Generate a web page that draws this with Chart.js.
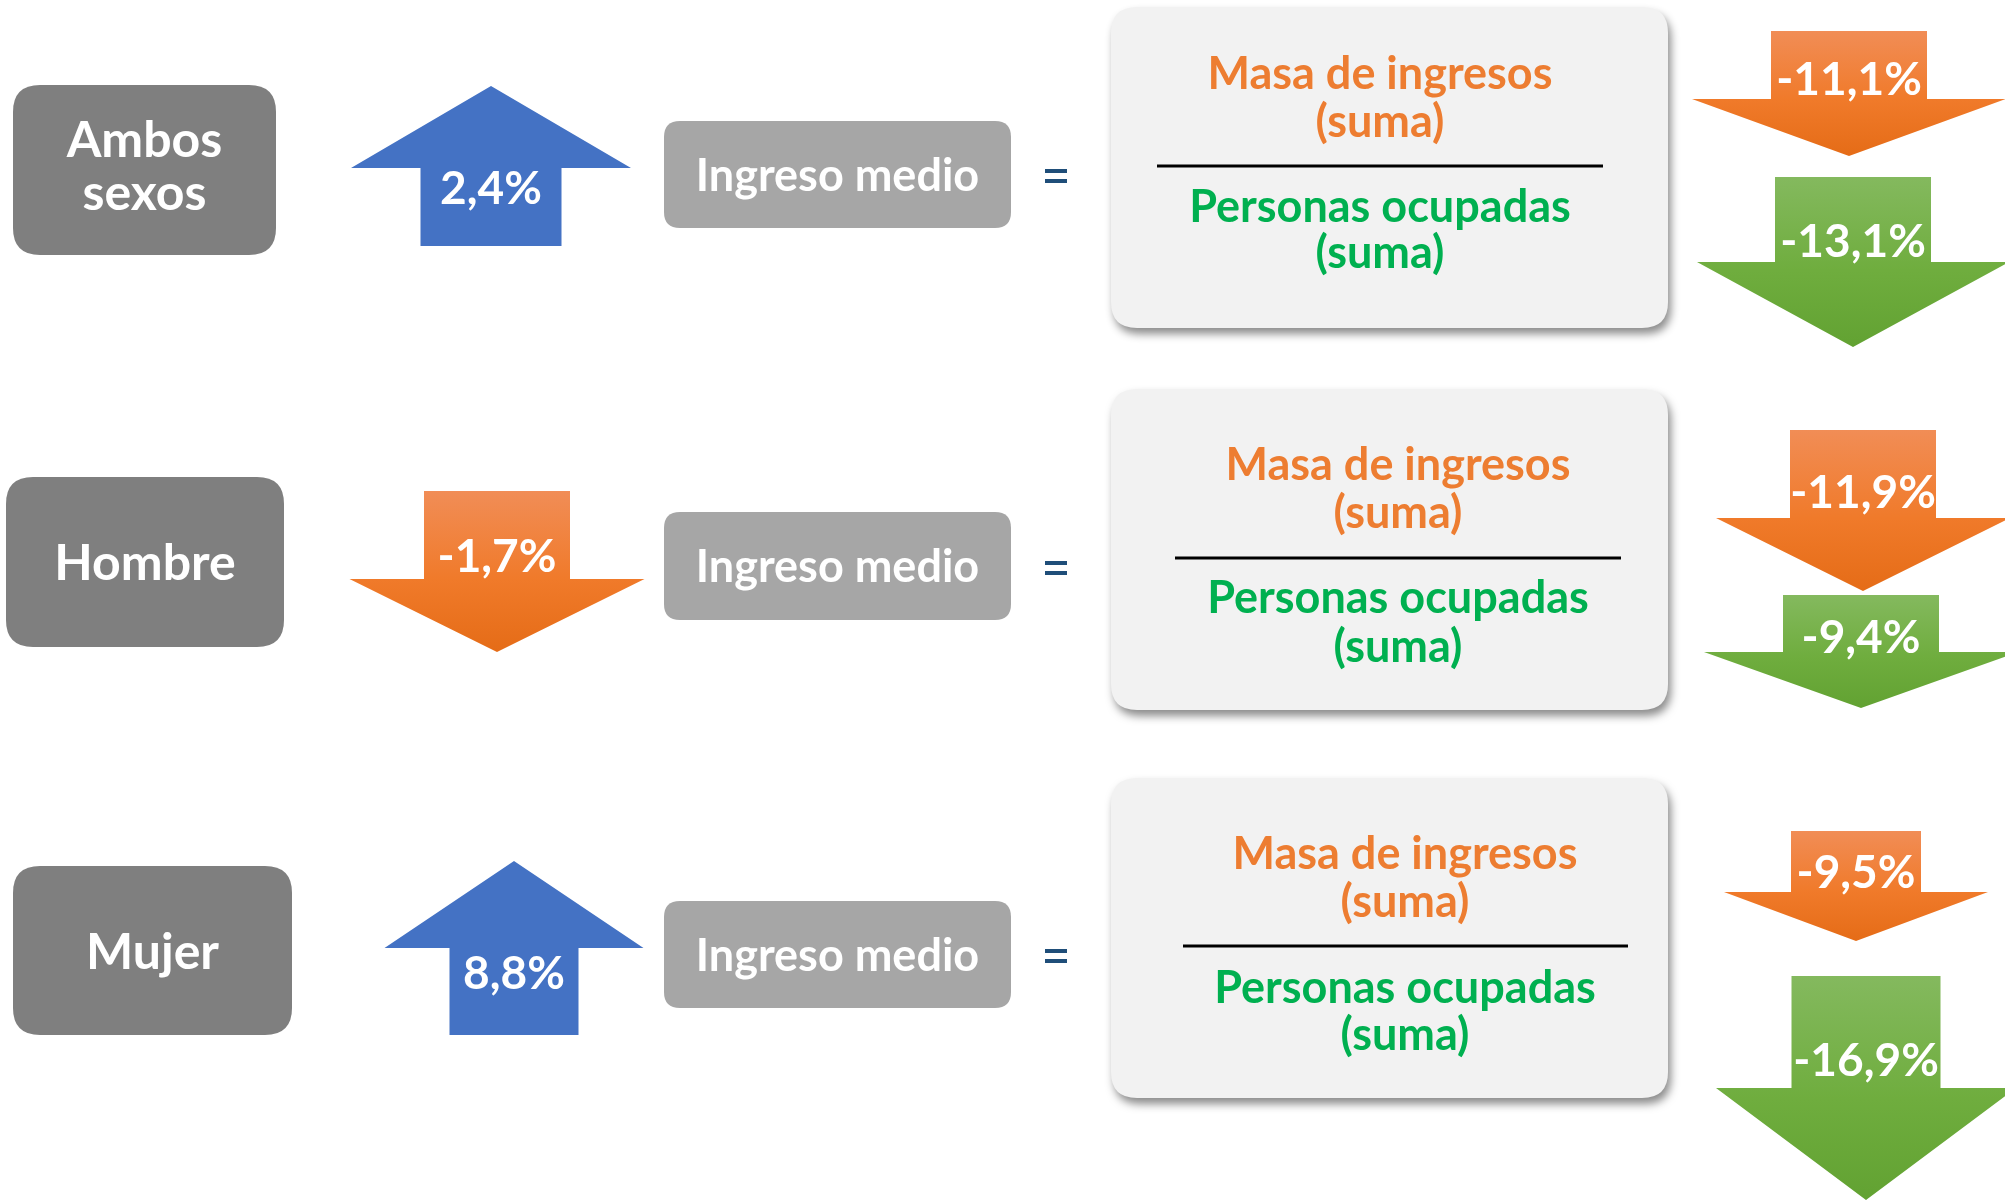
<!DOCTYPE html>
<html>
<head>
<meta charset="utf-8">
<script src="https://cdn.jsdelivr.net/npm/chart.js@4.4.1/dist/chart.umd.min.js"></script>
<style>
html,body{margin:0;padding:0;background:#fff;}
canvas{display:block;}
</style>
</head>
<body>
<canvas id="c" width="2005" height="1201"></canvas>
<script>
// ---- DATA ----
const grupos = [['Ambos', 'sexos'], ['Hombre'], ['Mujer']];
const ingresoMedio = [2.4, -1.7, 8.8];
const masaIngresos = [-11.1, -11.9, -9.5];
const personasOcupadas = [-13.1, -9.4, -16.9];
const textoIngreso = 'Ingreso medio';
const textoMasa = ['Masa de ingresos', '(suma)'];
const textoPersonas = ['Personas ocupadas', '(suma)'];

// ---- LAYOUT (pixel space of the hidden linear scales) ----
const W = 2005, H = 1201;
const FONT = 'Lato, "Open Sans", sans-serif';
const layout = [
  { label: {x0: 13, x1: 276, y0: 85, y1: 255, base: [157, 210]},
    main: {cx: 491, tail: 246, headBase: 168, tip: 86, shaft: 70.5, head: 140, base: 204},
    ingreso: {x0: 664, x1: 1011, y0: 121, y1: 228, base: 191}, eq: 176,
    frac: {x0: 1111, x1: 1668, y0: 7, y1: 328, cx: 1380, lineY: 166, l0: 1157, l1: 1603, base: [89, 137, 222, 268]},
    masa: {cx: 1849, tail: 31, headBase: 99, tip: 156, shaft: 78, head: 157, base: 95},
    pers: {cx: 1853, tail: 177, headBase: 262, tip: 347, shaft: 78, head: 156, base: 257} },
  { label: {x0: 6, x1: 284, y0: 477, y1: 647, base: [580]},
    main: {cx: 497, tail: 491, headBase: 579, tip: 652, shaft: 73, head: 147.5, base: 572},
    ingreso: {x0: 664, x1: 1011, y0: 512, y1: 620, base: 582}, eq: 568,
    frac: {x0: 1111, x1: 1668, y0: 389, y1: 710, cx: 1398, lineY: 558, l0: 1175, l1: 1621, base: [480, 528, 613, 662]},
    masa: {cx: 1863, tail: 430, headBase: 518, tip: 591, shaft: 73, head: 147, base: 508},
    pers: {cx: 1861, tail: 595, headBase: 652, tip: 708, shaft: 78, head: 157, base: 653} },
  { label: {x0: 13, x1: 292, y0: 866, y1: 1035, base: [969]},
    main: {cx: 514, tail: 1035, headBase: 948, tip: 861, shaft: 64.5, head: 129.5, base: 989},
    ingreso: {x0: 664, x1: 1011, y0: 901, y1: 1008, base: 971}, eq: 956,
    frac: {x0: 1111, x1: 1668, y0: 778, y1: 1098, cx: 1405, lineY: 946, l0: 1183, l1: 1628, base: [869, 917, 1003, 1050]},
    masa: {cx: 1856, tail: 831, headBase: 892, tip: 941, shaft: 65, head: 132, base: 888},
    pers: {cx: 1866, tail: 976, headBase: 1088, tip: 1200, shaft: 74.5, head: 150, base: 1076} }
];

const COLORS = {
  label: '#7F7F7F', ingreso: '#A6A6A6', frac: '#F2F2F2', eq: '#1F4E79',
  up: '#4472C4', orangeTxt: '#ED7D31', greenTxt: '#00B050',
  orange: ['#F18D56', '#F07A2A', '#E56C17'], green: ['#84B95E', '#6FAD3E', '#62A232']
};

function fmt(v) { return v.toFixed(1).replace('.', ',') + '%'; }

function rr(ctx, x0, y0, x1, y1, r) {
  ctx.beginPath();
  ctx.moveTo(x0 + r, y0);
  ctx.lineTo(x1 - r, y0);
  ctx.quadraticCurveTo(x1, y0, x1, y0 + r);
  ctx.lineTo(x1, y1 - r);
  ctx.quadraticCurveTo(x1, y1, x1 - r, y1);
  ctx.lineTo(x0 + r, y1);
  ctx.quadraticCurveTo(x0, y1, x0, y1 - r);
  ctx.lineTo(x0, y0 + r);
  ctx.quadraticCurveTo(x0, y0, x0 + r, y0);
  ctx.closePath();
}

const infographic = {
  id: 'infographic',
  afterDraw(chart) {
    const ctx = chart.ctx;
    const sx = chart.scales.x, sy = chart.scales.y;
    const X = v => sx.getPixelForValue(v);
    const Y = v => sy.getPixelForValue(v);

    function arrow(a, fill, value) {
      const cx = X(a.cx);
      ctx.beginPath();
      ctx.moveTo(cx, Y(a.tip));
      ctx.lineTo(X(a.cx + a.head), Y(a.headBase));
      ctx.lineTo(X(a.cx + a.shaft), Y(a.headBase));
      ctx.lineTo(X(a.cx + a.shaft), Y(a.tail));
      ctx.lineTo(X(a.cx - a.shaft), Y(a.tail));
      ctx.lineTo(X(a.cx - a.shaft), Y(a.headBase));
      ctx.lineTo(X(a.cx - a.head), Y(a.headBase));
      ctx.closePath();
      if (Array.isArray(fill)) {
        const g = ctx.createLinearGradient(0, Y(a.tail), 0, Y(a.tip));
        g.addColorStop(0, fill[0]); g.addColorStop(0.55, fill[1]); g.addColorStop(1, fill[2]);
        ctx.fillStyle = g;
      } else ctx.fillStyle = fill;
      ctx.fill();
      ctx.fillStyle = '#FFFFFF';
      ctx.font = 'bold 46px ' + FONT;
      ctx.textAlign = 'center';
      ctx.textBaseline = 'alphabetic';
      ctx.fillText(fmt(value), cx, Y(a.base));
    }

    ctx.save();
    layout.forEach((L, i) => {
      // group label box
      ctx.fillStyle = COLORS.label;
      rr(ctx, X(L.label.x0), Y(L.label.y0), X(L.label.x1), Y(L.label.y1), 27);
      ctx.fill();
      ctx.fillStyle = '#FFFFFF';
      ctx.font = 'bold 50px ' + FONT;
      ctx.textAlign = 'center';
      ctx.textBaseline = 'alphabetic';
      grupos[i].forEach((t, k) => ctx.fillText(t, X((L.label.x0 + L.label.x1) / 2), Y(L.label.base[k])));

      // main arrow (ingreso medio)
      const v = ingresoMedio[i];
      arrow(L.main, v >= 0 ? COLORS.up : COLORS.orange, v);

      // ingreso medio box
      ctx.fillStyle = COLORS.ingreso;
      rr(ctx, X(L.ingreso.x0), Y(L.ingreso.y0), X(L.ingreso.x1), Y(L.ingreso.y1), 16);
      ctx.fill();
      ctx.fillStyle = '#FFFFFF';
      ctx.font = 'bold 45px ' + FONT;
      ctx.fillText(textoIngreso, X((L.ingreso.x0 + L.ingreso.x1) / 2), Y(L.ingreso.base));

      // equals sign
      ctx.fillStyle = COLORS.eq;
      ctx.fillRect(X(1045), Y(L.eq - 7), 22, 4);
      ctx.fillRect(X(1045), Y(L.eq + 3), 22, 4);

      // fraction box
      ctx.save();
      ctx.shadowColor = 'rgba(0,0,0,0.45)';
      ctx.shadowBlur = 9;
      ctx.shadowOffsetX = 3;
      ctx.shadowOffsetY = 6;
      ctx.fillStyle = COLORS.frac;
      rr(ctx, X(L.frac.x0), Y(L.frac.y0), X(L.frac.x1), Y(L.frac.y1), 26);
      ctx.fill();
      ctx.restore();

      ctx.font = 'bold 45px ' + FONT;
      ctx.textAlign = 'center';
      ctx.fillStyle = COLORS.orangeTxt;
      ctx.fillText(textoMasa[0], X(L.frac.cx), Y(L.frac.base[0]));
      ctx.fillText(textoMasa[1], X(L.frac.cx), Y(L.frac.base[1]));
      ctx.fillStyle = COLORS.greenTxt;
      ctx.fillText(textoPersonas[0], X(L.frac.cx), Y(L.frac.base[2]));
      ctx.fillText(textoPersonas[1], X(L.frac.cx), Y(L.frac.base[3]));
      ctx.strokeStyle = '#000000';
      ctx.lineWidth = 3;
      ctx.beginPath();
      ctx.moveTo(X(L.frac.l0), Y(L.frac.lineY));
      ctx.lineTo(X(L.frac.l1), Y(L.frac.lineY));
      ctx.stroke();

      // component arrows
      arrow(L.masa, COLORS.orange, masaIngresos[i]);
      arrow(L.pers, COLORS.green, personasOcupadas[i]);
    });
    ctx.restore();
  }
};

new Chart(document.getElementById('c'), {
  type: 'scatter',
  data: { datasets: [{ data: [], pointRadius: 0 }] },
  options: {
    responsive: false,
    animation: false,
    devicePixelRatio: 1,
    layout: { padding: 0 },
    plugins: { legend: { display: false }, tooltip: { enabled: false } },
    scales: {
      x: { type: 'linear', min: 0, max: W, display: false },
      y: { type: 'linear', min: 0, max: H, reverse: true, display: false }
    }
  },
  plugins: [infographic]
});
</script>
</body>
</html>
